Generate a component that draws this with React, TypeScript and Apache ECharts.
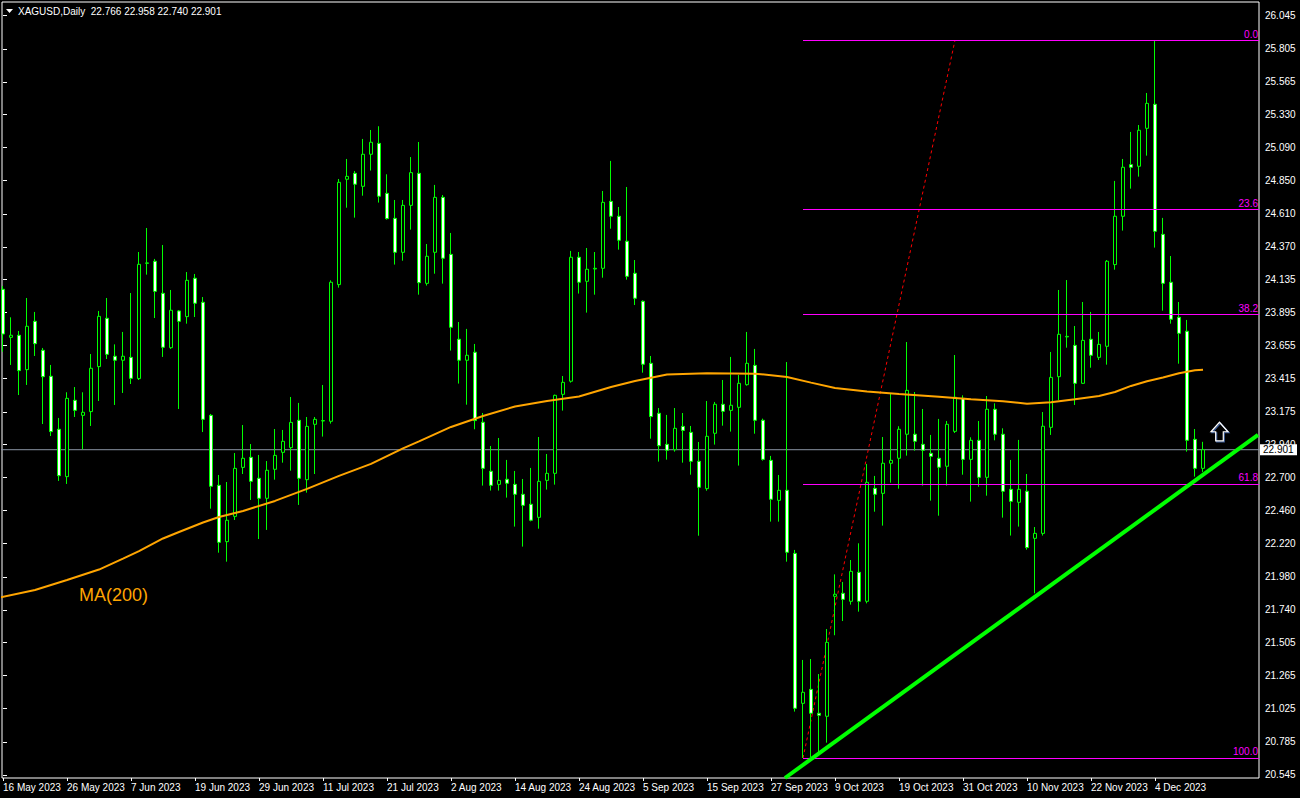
import React, { useEffect, useRef } from "react";
import * as echarts from "echarts";

// ---------- DATA ----------
const symbolTitle = "XAGUSD,Daily";
const lastQuote = ["22.766", "22.958", "22.740", "22.901"];

// daily candles, index 0 = 16 May 2023, index 150 = 12 Dec 2023
const opens = [
  24.063, 23.715, 23.73, 23.481, 23.831, 23.621, 23.433, 23.049, 22.706, 23.259,
  23.15, 23.177, 23.503, 23.853, 23.578, 23.549, 23.57, 23.416, 24.251, 24.266,
  24.034, 23.64, 23.906, 23.865, 24.143, 23.969, 23.15, 22.643, 22.235, 22.418,
  22.773, 22.846, 22.694, 22.549, 22.759, 22.882, 22.916, 23.114, 22.684, 23.085,
  23.109, 23.107, 24.097, 24.86, 24.903, 24.809, 25.041, 25.12, 24.758, 24.577,
  24.331, 24.671, 24.903, 24.106, 24.331, 24.729, 24.316, 23.701, 23.549, 23.607,
  23.1, 22.745, 22.65, 22.687, 22.65, 22.578, 22.506, 22.411, 22.679, 22.73,
  23.302, 23.397, 24.295, 24.121, 24.21, 24.215, 24.7, 24.592, 24.411, 24.179,
  23.976, 23.527, 23.165, 22.94, 22.901, 23.07, 23.027, 22.817, 22.619, 23.02,
  23.23, 23.186, 23.208, 23.372, 23.512, 23.114, 22.824, 22.534, 22.607, 22.15,
  21.064, 21.165, 20.992, 20.97, 21.839, 21.861, 21.803, 22.013, 21.803, 22.621,
  22.585, 22.803, 22.839, 23.013, 23.013, 22.94, 22.875, 22.839, 22.781, 23.034,
  23.273, 22.831, 22.969, 22.701, 23.194, 23.013, 22.614, 22.52, 22.6, 22.259,
  22.295, 23.063, 23.43, 23.718, 23.657, 23.382, 23.701, 23.57, 23.65, 24.242,
  24.592, 24.966, 24.954, 25.229, 25.403, 24.461, 24.114, 23.86, 23.759, 22.976,
  22.766,
];
const closes = [
  23.739, 23.73, 23.474, 23.795, 23.669, 23.43, 23.032, 22.713, 23.273, 23.186,
  23.172, 23.491, 23.867, 23.592, 23.549, 23.578, 23.418, 24.244, 24.254, 24.048,
  23.643, 23.911, 23.831, 24.128, 23.962, 23.121, 22.636, 22.23, 22.39, 22.766,
  22.839, 22.672, 22.549, 22.752, 22.86, 22.962, 23.099, 22.694, 23.07, 23.121,
  23.112, 24.114, 24.838, 24.881, 24.824, 25.041, 25.128, 24.737, 24.575, 24.331,
  24.671, 24.908, 24.111, 24.302, 24.729, 24.288, 23.788, 23.549, 23.585, 23.112,
  22.766, 22.643, 22.679, 22.658, 22.578, 22.498, 22.39, 22.672, 22.73, 23.295,
  23.389, 24.295, 24.114, 24.208, 24.215, 24.693, 24.592, 24.418, 24.157, 23.998,
  23.52, 23.141, 22.93, 22.897, 23.056, 23.041, 22.817, 22.629, 22.998, 23.23,
  23.179, 23.223, 23.382, 23.527, 23.114, 22.831, 22.542, 22.607, 22.158, 21.028,
  21.144, 20.992, 20.977, 21.506, 21.854, 21.817, 22.02, 21.803, 22.665, 22.578,
  22.803, 22.824, 23.049, 23.331, 22.962, 22.897, 22.853, 22.774, 23.085, 23.281,
  22.831, 22.969, 22.701, 23.194, 23.013, 22.6, 22.527, 22.614, 22.192, 22.295,
  23.071, 23.425, 23.737, 23.722, 23.382, 23.693, 23.585, 23.664, 24.266, 24.592,
  24.947, 24.947, 25.215, 25.41, 24.483, 24.106, 23.846, 23.744, 22.969, 22.766,
  22.901,
];
const lows = [
  23.611, 23.515, 23.297, 23.37, 23.58, 23.087, 23.0, 22.675, 22.653, 23.138,
  22.904, 23.073, 23.254, 23.558, 23.225, 23.312, 23.377, 23.406, 24.169, 23.855,
  23.573, 23.631, 23.196, 23.814, 23.862, 23.029, 22.474, 22.155, 22.09, 22.392,
  22.725, 22.537, 22.254, 22.32, 22.684, 22.807, 22.749, 22.501, 22.59, 22.725,
  22.996, 23.09, 24.075, 24.654, 24.582, 24.741, 24.923, 24.691, 24.568, 24.242,
  24.27, 24.495, 24.024, 24.09, 24.176, 24.104, 23.619, 23.38, 23.227, 23.049,
  22.641, 22.605, 22.605, 22.554, 22.344, 22.199, 22.382, 22.329, 22.612, 22.648,
  23.184, 23.387, 24.032, 23.894, 24.024, 24.147, 24.502, 24.35, 24.133, 23.949,
  23.459, 22.981, 22.815, 22.829, 22.887, 22.807, 22.72, 22.278, 22.604, 22.938,
  23.075, 23.032, 22.786, 23.365, 23.017, 22.822, 22.38, 22.38, 22.09, 21.004,
  20.668, 20.675, 20.711, 20.779, 21.557, 21.66, 21.779, 21.728, 21.788, 22.452,
  22.351, 22.662, 22.619, 22.858, 22.894, 22.641, 22.532, 22.423, 22.641, 23.022,
  22.72, 22.525, 22.633, 22.568, 22.969, 22.409, 22.279, 22.344, 22.177, 21.861,
  22.279, 23.008, 23.261, 23.64, 23.225, 23.378, 23.495, 23.551, 23.517, 24.205,
  24.488, 24.792, 24.879, 25.031, 24.365, 23.908, 23.814, 23.524, 22.887, 22.706,
  22.74,
];
const highs = [
  24.087, 23.86, 23.761, 24.0, 23.899, 23.638, 23.515, 23.131, 23.317, 23.355,
  23.317, 23.594, 23.906, 24.0, 23.664, 23.754, 24.036, 24.333, 24.507, 24.283,
  24.384, 24.058, 23.913, 24.188, 24.174, 24.007, 23.16, 22.718, 22.667, 22.877,
  23.08, 22.942, 22.863, 22.819, 23.051, 23.044, 23.283, 23.24, 23.138, 23.138,
  23.37, 24.128, 24.862, 25.007, 24.92, 25.152, 25.217, 25.244, 24.896, 24.71,
  24.71, 25.021, 25.13, 24.391, 24.819, 24.746, 24.471, 23.826, 23.776, 23.667,
  23.167, 22.928, 22.986, 22.827, 22.747, 22.689, 22.769, 22.993, 22.87, 23.3,
  23.435, 24.341, 24.333, 24.362, 24.333, 24.775, 24.993, 24.659, 24.804, 24.275,
  23.983, 23.58, 23.203, 23.153, 23.203, 23.167, 23.073, 22.957, 23.254, 23.247,
  23.406, 23.573, 23.442, 23.754, 23.631, 23.126, 22.856, 22.718, 23.536, 22.175,
  21.378, 21.385, 21.276, 21.602, 21.998, 21.943, 22.102, 22.223, 22.798, 22.711,
  22.993, 23.31, 23.071, 23.681, 23.319, 23.196, 23.008, 23.124, 23.109, 23.587,
  23.295, 22.991, 23.109, 23.29, 23.237, 23.056, 22.827, 22.972, 22.725, 22.341,
  23.174, 23.609, 24.058, 24.13, 23.797, 23.971, 23.899, 23.754, 24.275, 24.848,
  25.007, 25.203, 25.253, 25.485, 25.867, 24.58, 24.304, 23.971, 23.841, 23.051,
  22.958,
];

// MA(200): [bar index, value]
const maPoints: [number, number][] = [
  [-1, 21.823], [4, 21.885], [8, 21.957], [12, 22.033], [15, 22.112], [17, 22.167],
  [20, 22.258], [22, 22.305], [25, 22.374], [27, 22.414], [30, 22.457], [34, 22.53],
  [38, 22.617], [42, 22.711], [46, 22.798], [50, 22.911], [52, 22.961], [56, 23.066],
  [60, 23.145], [64, 23.214], [68, 23.254], [72, 23.287], [76, 23.355], [79, 23.399],
  [83, 23.446], [88, 23.455], [94, 23.452], [98, 23.428], [101, 23.387], [104, 23.348],
  [108, 23.323], [112, 23.305], [117, 23.284], [121, 23.266], [125, 23.252], [128, 23.234],
  [131, 23.245], [134, 23.266], [137, 23.29], [139, 23.319], [141, 23.363], [143, 23.397],
  [145, 23.424], [147, 23.455], [149, 23.476], [150, 23.481],
];

// date axis labels every 8 bars
const dateLabels = [
  "16 May 2023", "26 May 2023", "7 Jun 2023", "19 Jun 2023", "29 Jun 2023",
  "11 Jul 2023", "21 Jul 2023", "2 Aug 2023", "14 Aug 2023", "24 Aug 2023",
  "5 Sep 2023", "15 Sep 2023", "27 Sep 2023", "9 Oct 2023", "19 Oct 2023",
  "31 Oct 2023", "10 Nov 2023", "22 Nov 2023", "4 Dec 2023",
];
const dateLabelBars = [0, 8, 16, 24, 32, 40, 48, 56, 64, 72, 80, 88, 96, 104, 112, 120, 128, 136, 144];

// price axis tick labels
const priceTickLabels = [
  "20.545", "20.785", "21.025", "21.265", "21.505", "21.740", "21.980", "22.220",
  "22.460", "22.700", "22.940", "23.175", "23.415", "23.655", "23.895", "24.135",
  "24.370", "24.610", "24.850", "25.090", "25.330", "25.565", "25.805", "26.045",
];

// Fibonacci retracement (anchor 1: low, anchor 2: high)
const fibLow = { bar: 100, price: 20.668 };
const fibHigh = { bar: 119, price: 25.867 };
const fibLevels = [0, 23.6, 38.2, 61.8, 100];
const fibLabels = ["0.0", "23.6", "38.2", "61.8", "100.0"];

// support trend line anchors [bar, price]
const trendLine: [number, number][] = [
  [97.75, 20.523],
  [156.875, 23.008],
];

const arrowAnchor: [number, number] = [152.06, 23.1];
const maLabelAnchor: [number, number] = [9.5, 21.85];
const maLabel = "MA(200)";

const xRange = [-0.125, 157];
const yRange = [20.523, 26.144];

const FONT = "'Liberation Sans', Arial, sans-serif";
const GREEN = "#00ff00";
const MAGENTA = "#ff00ff";
const ORANGE = "#ffa500";

export default function App() {
  const ref = useRef<HTMLDivElement>(null);

  useEffect(() => {
    document.body.style.margin = "0";
    document.body.style.background = "#000";
    const el = ref.current;
    if (!el) return;
    const chart = echarts.init(el, undefined, { renderer: "svg" });

    const candles = opens.map((o, i) => [i, o, closes[i], lows[i], highs[i]]);
    const lastClose = closes[closes.length - 1];
    const fibPrices = fibLevels.map(
      (l) => fibHigh.price - (l / 100) * (fibHigh.price - fibLow.price)
    );
    const tickValues = priceTickLabels.map((s) => parseFloat(s));

    const option: any = {
      animation: false,
      backgroundColor: "#000",
      textStyle: { fontFamily: FONT },
      grid: {
        left: 2,
        top: 2,
        right: 41,
        bottom: 20,
        show: true,
        borderColor: "#ffffff",
        borderWidth: 1,
        backgroundColor: "#000",
      },
      xAxis: {
        type: "value",
        min: xRange[0],
        max: xRange[1],
        axisLine: { show: false },
        splitLine: { show: false },
        axisTick: {
          show: true,
          customValues: dateLabelBars,
          length: 3,
          lineStyle: { color: "#fff" },
        },
        axisLabel: {
          customValues: dateLabelBars,
          showMinLabel: true,
          showMaxLabel: true,
          formatter: (v: number) => {
            const k = dateLabelBars.indexOf(Math.round(v));
            return k >= 0 ? dateLabels[k] : "";
          },
          color: "#fff",
          fontSize: 10,
          fontFamily: FONT,
          align: "left",
          margin: 4,
        },
      },
      yAxis: {
        type: "value",
        position: "right",
        min: yRange[0],
        max: yRange[1],
        axisLine: { show: false },
        splitLine: { show: false },
        axisTick: {
          show: true,
          customValues: tickValues,
          length: 4,
          lineStyle: { color: "#fff" },
        },
        axisLabel: {
          customValues: tickValues,
          showMinLabel: true,
          showMaxLabel: true,
          formatter: (v: number) => {
            let best = 0;
            tickValues.forEach((t, k) => {
              if (Math.abs(t - v) < Math.abs(tickValues[best] - v)) best = k;
            });
            return priceTickLabels[best];
          },
          color: "#fff",
          fontSize: 10,
          fontFamily: FONT,
          margin: 6,
        },
      },
      series: [
        {
          name: "bid",
          type: "line",
          data: [
            [xRange[0] - 1, lastClose],
            [xRange[1] + 1, lastClose],
          ],
          symbol: "none",
          lineStyle: { color: "#8a94a2", width: 1 },
          z: 1,
          silent: true,
          markLine: {
            silent: true,
            symbol: "none",
            animation: false,
            lineStyle: { color: MAGENTA, width: 1, type: "solid" },
            label: {
              show: true,
              position: "insideEndTop",
              color: MAGENTA,
              fontSize: 10,
              fontFamily: FONT,
              distance: [1, 1],
            },
            data: fibPrices.map((p, k) => [
              { coord: [fibLow.bar, p], label: { formatter: fibLabels[k] } },
              { coord: [xRange[1], p] },
            ]),
          },
        },
        {
          name: "fibTrend",
          type: "line",
          data: [
            [fibLow.bar, fibLow.price],
            [fibHigh.bar, fibHigh.price],
          ],
          symbol: "none",
          lineStyle: { color: "#ff0000", width: 1, type: [3, 3] },
          z: 2,
          silent: true,
        },
        {
          name: "XAGUSD",
          type: "candlestick",
          data: candles,
          barWidth: 4,
          itemStyle: {
            color: "#000000",
            color0: "#ffffff",
            borderColor: GREEN,
            borderColor0: GREEN,
            borderColorDoji: GREEN,
            borderWidth: 1,
          },
          z: 3,
          silent: true,
        },
        {
          name: "MA(200)",
          type: "line",
          data: maPoints,
          symbol: "none",
          smooth: false,
          lineStyle: { color: ORANGE, width: 2 },
          z: 4,
          silent: true,
        },
        {
          name: "trend",
          type: "line",
          data: trendLine,
          symbol: "none",
          lineStyle: { color: GREEN, width: 4 },
          z: 5,
          silent: true,
        },
      ],
    };

    chart.setOption(option);

    const yPrice = chart.convertToPixel({ yAxisIndex: 0 }, lastClose) as number;
    const xRight = chart.convertToPixel({ xAxisIndex: 0 }, xRange[1]) as number;
    const a = chart.convertToPixel({ xAxisIndex: 0, yAxisIndex: 0 }, arrowAnchor) as number[];
    const m = chart.convertToPixel({ xAxisIndex: 0, yAxisIndex: 0 }, maLabelAnchor) as number[];

    const arrowShape = (dx: number, dy: number) =>
      [
        [0, 0],
        [8.5, 9.5],
        [3.8, 9.5],
        [3.8, 18.7],
        [-3.8, 18.7],
        [-3.8, 9.5],
        [-8.5, 9.5],
      ].map(([px, py]) => [a[0] + px + dx, a[1] + py + dy]);

    chart.setOption({
      graphic: [
        {
          type: "polygon",
          id: "titleTri",
          shape: { points: [[6, 9], [13, 9], [9.5, 13]] },
          style: { fill: "#fff" },
          z: 100,
        },
        {
          type: "text",
          id: "title",
          x: 18,
          y: 11,
          style: {
            text: symbolTitle + "  " + lastQuote.join(" "),
            fill: "#fff",
            font: "10px " + FONT,
            verticalAlign: "middle",
          },
          z: 100,
        },
        {
          type: "text",
          id: "maLabel",
          x: m[0],
          y: m[1],
          style: {
            text: maLabel,
            fill: ORANGE,
            font: "18px " + FONT,
            verticalAlign: "middle",
          },
          z: 100,
        },
        {
          type: "polygon",
          id: "arrowShadow",
          shape: { points: arrowShape(1, 1) },
          style: { fill: "none", stroke: "#3b5c9a", lineWidth: 1.2 },
          z: 100,
        },
        {
          type: "polygon",
          id: "arrow",
          shape: { points: arrowShape(0, 0) },
          style: { fill: "none", stroke: "#ffffff", lineWidth: 1.2 },
          z: 101,
        },
        {
          type: "rect",
          id: "priceBox",
          shape: { x: xRight + 1, y: yPrice - 5.5, width: 37, height: 11 },
          style: { fill: "#fff" },
          z: 100,
        },
        {
          type: "text",
          id: "priceText",
          x: xRight + 4,
          y: yPrice,
          style: {
            text: lastClose.toFixed(3),
            fill: "#000",
            font: "10px " + FONT,
            verticalAlign: "middle",
          },
          z: 101,
        },
      ],
    });

    return () => chart.dispose();
  }, []);

  return (
    <div
      ref={ref}
      style={{ position: "absolute", left: 0, top: 0, width: 1300, height: 798, background: "#000" }}
    />
  );
}
